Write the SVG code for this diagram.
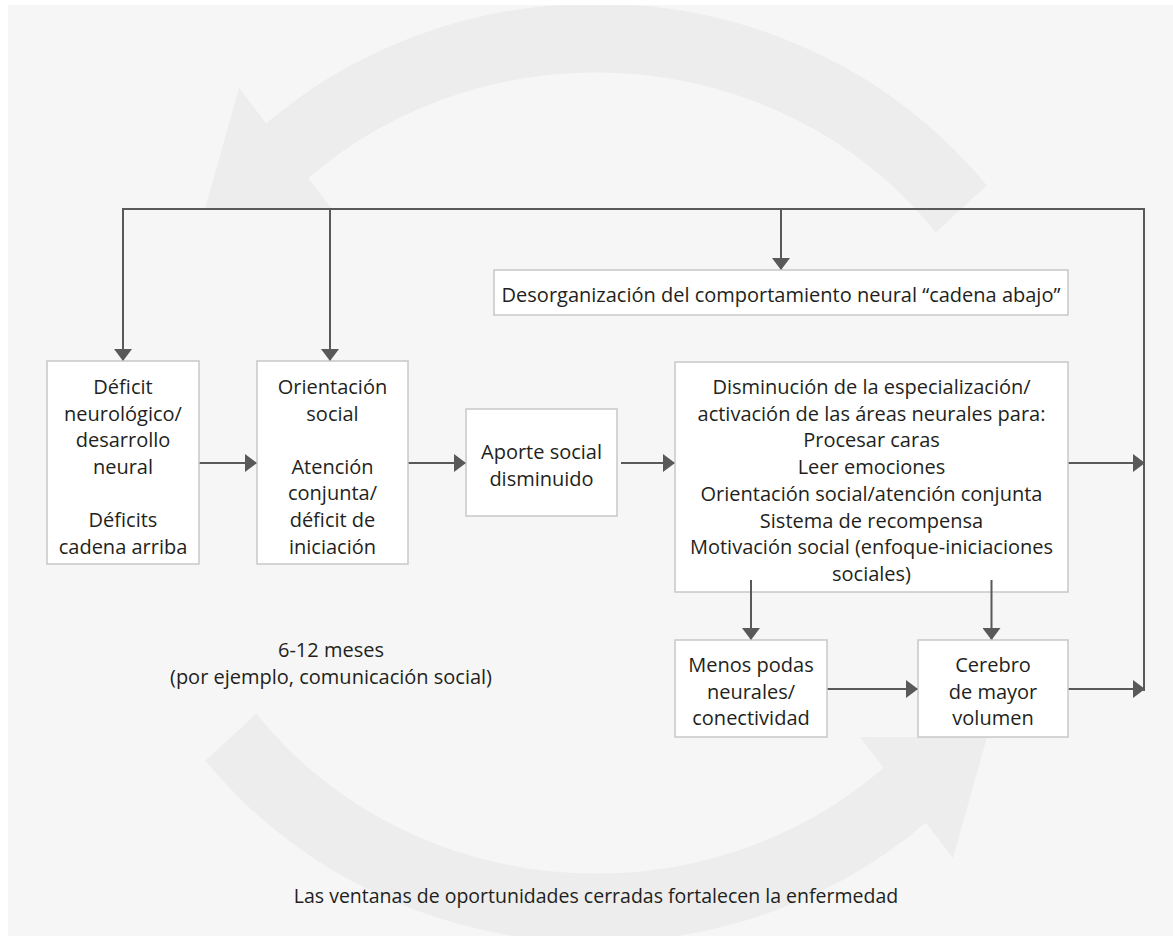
<svg xmlns="http://www.w3.org/2000/svg" width="1173" height="936" viewBox="0 0 1173 936">
<style>
.bg{fill:#f6f6f6}
.ring{fill:none;stroke:#ecedec;stroke-width:69}
.ringf{fill:#ecedec}
.box{fill:#ffffff;stroke:#c8c8c8;stroke-width:1.5}
.ln{fill:none;stroke:#595959;stroke-width:2}
text{font-family:"Open Sans",Lato,"Liberation Sans",sans-serif;font-size:20px;fill:#231f20;text-anchor:middle}
.small{font-size:19.5px}
</style>
<defs>
<marker id="ah" markerUnits="userSpaceOnUse" markerWidth="12" markerHeight="18" refX="12" refY="9" orient="auto" viewBox="0 0 12 18">
<path d="M0,0 L12,9 L0,18 z" fill="#595959"/>
</marker>
<clipPath id="bgclip"><rect x="8" y="5" width="1165" height="931"/></clipPath>
<clipPath id="wedge"><polygon points="727,425 1195,-7 -54,-143 596,473"/></clipPath>
<g id="arcshape">
<ellipse class="ring" cx="596" cy="473" rx="459.5" ry="435" clip-path="url(#wedge)"/>
<polygon class="ringf" points="239,88 332,209 205,209"/>
</g>
</defs>
<rect class="bg" x="8" y="5" width="1165" height="931"/>
<g id="cycle" clip-path="url(#bgclip)">
<use href="#arcshape"/>
<use href="#arcshape" transform="rotate(180 596 473)"/>
</g>
<g id="connectors">
<path class="ln" d="M1144,691 V209 H123 V361" marker-end="url(#ah)"/>
<path class="ln" d="M330,209 V361" marker-end="url(#ah)"/>
<path class="ln" d="M781,209 V270" marker-end="url(#ah)"/>
<path class="ln" d="M199,463 H257" marker-end="url(#ah)"/>
<path class="ln" d="M408,463 H466" marker-end="url(#ah)"/>
<path class="ln" d="M621,463 H675" marker-end="url(#ah)"/>
<path class="ln" d="M1068,463 H1145" marker-end="url(#ah)"/>
<path class="ln" d="M827,689 H918" marker-end="url(#ah)"/>
<path class="ln" d="M1068,689 H1145" marker-end="url(#ah)"/>
</g>
<g id="n-desorg">
<rect class="box" x="494" y="270" width="574" height="45"/>
<text x="781" y="302">Desorganización del comportamiento neural “cadena abajo”</text>
</g>
<g id="n-deficit">
<rect class="box" x="47" y="361" width="152" height="203"/>
<text x="123" y="394">Déficit</text>
<text x="123" y="420.6">neurológico/</text>
<text x="123" y="447.2">desarrollo</text>
<text x="123" y="473.8">neural</text>
<text x="123" y="527">Déficits</text>
<text x="123" y="553.6">cadena arriba</text>
</g>
<g id="n-orient">
<rect class="box" x="257" y="361" width="151" height="203"/>
<text x="332.5" y="394">Orientación</text>
<text x="332.5" y="420.6">social</text>
<text x="332.5" y="473.8">Atención</text>
<text x="332.5" y="500.4">conjunta/</text>
<text x="332.5" y="527">déficit de</text>
<text x="332.5" y="553.6">iniciación</text>
</g>
<g id="n-aporte">
<rect class="box" x="466" y="409" width="151" height="107"/>
<text x="541.5" y="459.2">Aporte social</text>
<text x="541.5" y="485.8">disminuido</text>
</g>
<g id="n-dismin">
<rect class="box" x="675" y="362" width="393" height="230"/>
<text x="871.5" y="394">Disminución de la especialización/</text>
<text x="871.5" y="420.7">activación de las áreas neurales para:</text>
<text x="871.5" y="447.4">Procesar caras</text>
<text x="871.5" y="474">Leer emociones</text>
<text x="871.5" y="500.8">Orientación social/atención conjunta</text>
<text x="871.5" y="527.5">Sistema de recompensa</text>
<text x="871.5" y="554">Motivación social (enfoque-iniciaciones</text>
<text x="871.5" y="580.5">sociales)</text>
</g>
<g id="connectors-down">
<path class="ln" d="M751,580 V640" marker-end="url(#ah)"/>
<path class="ln" d="M991.5,580 V640" marker-end="url(#ah)"/>
</g>
<g id="n-menos">
<rect class="box" x="675" y="640" width="152" height="97"/>
<text x="751" y="672.4">Menos podas</text>
<text x="751" y="699">neurales/</text>
<text x="751" y="725">conectividad</text>
</g>
<g id="n-cerebro">
<rect class="box" x="918" y="640" width="150" height="97"/>
<text x="993" y="672.4">Cerebro</text>
<text x="993" y="699">de mayor</text>
<text x="993" y="725">volumen</text>
</g>
<g id="label-meses">
<text x="331" y="657.4">6-12 meses</text>
<text x="331" y="684.3">(por ejemplo, comunicación social)</text>
</g>
<g id="label-bottom">
<text class="small" x="596" y="903">Las ventanas de oportunidades cerradas fortalecen la enfermedad</text>
</g>
</svg>
